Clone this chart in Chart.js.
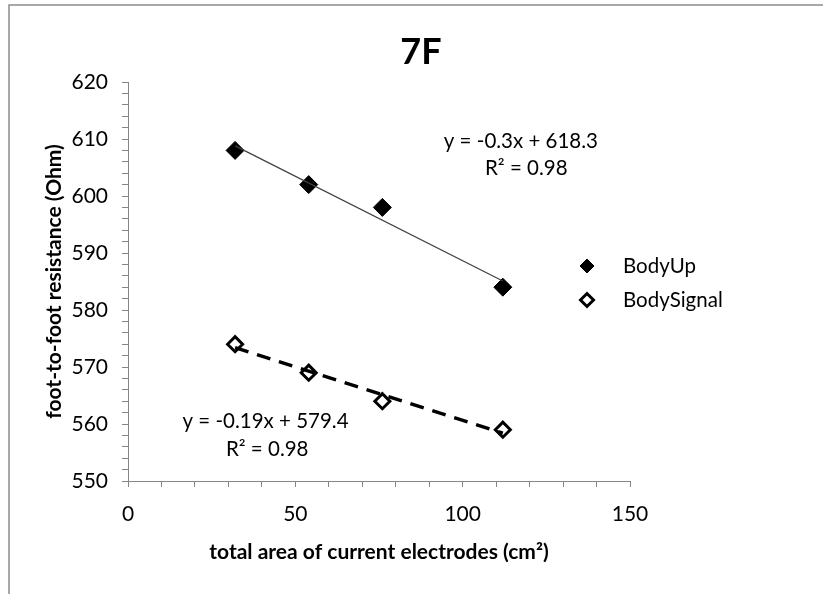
<!DOCTYPE html>
<html>
<head>
<meta charset="utf-8">
<script src="https://cdn.jsdelivr.net/npm/chart.js@4.4.1/dist/chart.umd.min.js"></script>
<style>
  html, body { margin: 0; padding: 0; background: #fff; }
  #wrap { width: 823px; height: 594px; }
</style>
</head>
<body>
<div id="wrap"><canvas id="Area7F" width="823" height="594"></canvas></div>
<script>
// values
var areas = [32, 54, 76, 112];
var bodyUp = [608, 602, 598, 584];
var bodySignal = [574, 569, 564, 559];

// trendline ends (Excel linear fit, drawn over the data range)
var trendX = [32, 112];
var bodyUpTrend = [608.8, 585.1];
var bodySignalTrend = [573.4, 558.4];

var xLabelValues = [0, 50, 100, 150];
var yLabelValues = [550, 560, 570, 580, 590, 600, 610, 620];

var upFitText = ['y = -0.3x + 618.3', 'R\u00B2 = 0.98'];
var signalFitText = ['y = -0.19x + 579.4', 'R\u00B2 = 0.98'];
var seriesNames = ['BodyUp', 'BodySignal'];

var FONT = 'Lato, "Open Sans", sans-serif';

function pairs(xs, ys) {
  return xs.map(function (x, i) { return { x: x, y: ys[i] }; });
}

// equations, legend and the outer frame
var extras = {
  id: 'extras',
  beforeDraw: function (chart) {
    var ctx = chart.ctx;
    ctx.save();
    ctx.strokeStyle = '#8c8c8c';
    ctx.lineWidth = 1.5;
    ctx.beginPath();
    ctx.moveTo(9, 594);
    ctx.lineTo(9, 5);
    ctx.lineTo(823, 5);
    ctx.stroke();
    ctx.restore();
  },
  afterDatasetsDraw: function (chart) {
    var ctx = chart.ctx;
    var sx = chart.scales.x, sy = chart.scales.y;
    ctx.save();
    ctx.fillStyle = '#000';
    ctx.font = '20.5px ' + FONT;
    ctx.textAlign = 'center';
    ctx.textBaseline = 'middle';
    ctx.fillText(upFitText[0], sx.getPixelForValue(117.4), sy.getPixelForValue(609.5));
    ctx.fillText(upFitText[1], sx.getPixelForValue(119), sy.getPixelForValue(604.8));
    ctx.fillText(signalFitText[0], sx.getPixelForValue(41.1), sy.getPixelForValue(560.4));
    ctx.fillText(signalFitText[1], sx.getPixelForValue(41.6), sy.getPixelForValue(555.5));

    // legend
    var items = [
      { y: 266, fill: '#000', border: 1, r: 7 },
      { y: 300, fill: '#fff', border: 3, r: 6.5 }
    ];
    items.forEach(function (it, i) {
      ctx.fillStyle = it.fill;
      ctx.strokeStyle = '#000';
      ctx.lineWidth = it.border;
      Chart.helpers.drawPoint(ctx, { pointStyle: 'rectRot', radius: it.r, rotation: 0, borderWidth: it.border }, 587, it.y);
      ctx.fillStyle = '#000';
      ctx.textAlign = 'left';
      ctx.fillText(seriesNames[i], 623, it.y);
    });
    ctx.restore();
  }
};

var axisGrey = '#868686';

new Chart(document.getElementById('Area7F').getContext('2d'), {
  type: 'scatter',
  data: {
    datasets: [{
      type: 'line',
      label: 'BodyUp trend',
      data: pairs(trendX, bodyUpTrend),
      borderColor: '#404040',
      borderWidth: 1.2,
      pointRadius: 0,
      fill: false,
      order: 0
    }, {
      type: 'line',
      label: 'BodySignal trend',
      data: pairs(trendX, bodySignalTrend),
      borderColor: '#000',
      borderWidth: 3.5,
      borderDash: [14, 9],
      pointRadius: 0,
      fill: false,
      order: 0
    }, {
      label: seriesNames[0],
      data: pairs(areas, bodyUp),
      pointStyle: 'rectRot',
      pointRadius: 9,
      pointBackgroundColor: '#000',
      pointBorderColor: '#000',
      pointBorderWidth: 1,
      order: 1
    }, {
      label: seriesNames[1],
      data: pairs(areas, bodySignal),
      pointStyle: 'rectRot',
      pointRadius: 7.5,
      pointBackgroundColor: '#fff',
      pointBorderColor: '#000',
      pointBorderWidth: 3,
      order: 1
    }]
  },
  options: {
    responsive: false,
    animation: false,
    layout: { padding: { left: 20, right: 1, top: 10, bottom: 0 } },
    plugins: {
      legend: { display: false },
      tooltip: { enabled: false },
      title: {
        display: true,
        text: '7F',
        color: '#000',
        font: { family: FONT, size: 36, weight: 'bold' },
        padding: { top: 20.4, bottom: 8.4 }
      }
    },
    scales: {
      x: {
        type: 'linear',
        position: 'bottom',
        min: 0,
        max: 150,
        afterFit: function (s) { s.height = 113; },
        ticks: {
          stepSize: 10,
          autoSkip: false,
          maxRotation: 0,
          padding: 15,
          color: '#000',
          font: { family: FONT, size: 21 },
          callback: function (v) { return xLabelValues.indexOf(v) >= 0 ? v : ''; }
        },
        grid: { drawOnChartArea: false, drawTicks: true, tickLength: 6, color: axisGrey },
        border: { color: axisGrey, width: 1 },
        title: {
          display: true,
          text: 'total area of current electrodes (cm\u00B2)',
          color: '#000',
          font: { family: FONT, size: 21, weight: 'bold' },
          padding: { top: 0, bottom: 29.4 }
        }
      },
      y: {
        type: 'linear',
        position: 'left',
        min: 550,
        max: 620,
        afterFit: function (s) { s.width = 108; },
        ticks: {
          stepSize: 2,
          autoSkip: false,
          padding: 14,
          color: '#000',
          font: { family: FONT, size: 21 },
          callback: function (v) { return yLabelValues.indexOf(v) >= 0 ? v : ''; }
        },
        grid: { drawOnChartArea: false, drawTicks: true, tickLength: 6, color: axisGrey },
        border: { color: axisGrey, width: 1 },
        title: {
          display: true,
          text: 'foot-to-foot resistance (Ohm)',
          color: '#000',
          font: { family: FONT, size: 21, weight: 'bold' },
          padding: { top: 22, bottom: 0 }
        }
      },
      // keeps the room on the right where Excel put the legend
      side: {
        type: 'linear',
        position: 'right',
        min: 0,
        max: 1,
        afterFit: function (s) { s.width = 192; },
        ticks: { display: false },
        grid: { display: false },
        border: { display: false }
      }
    }
  },
  plugins: [extras]
});
</script>
</body>
</html>
